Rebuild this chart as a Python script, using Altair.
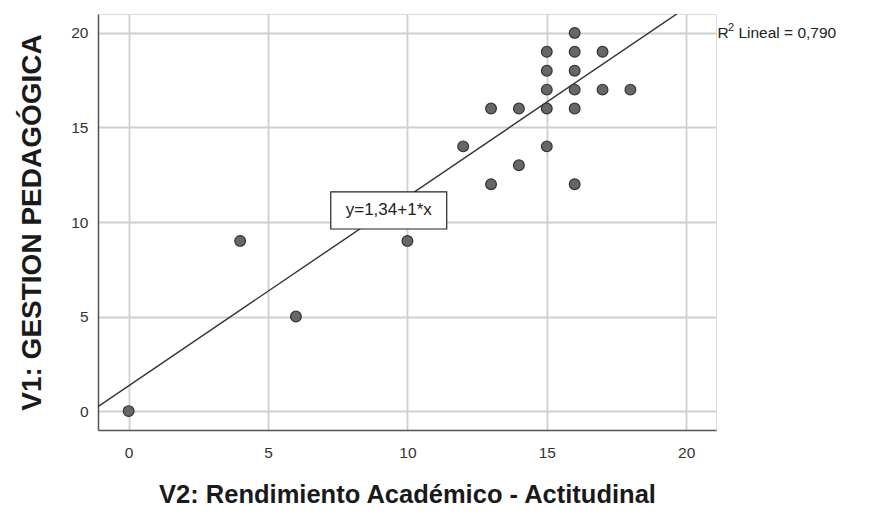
import altair as alt
import pandas as pd

# Data
v2_x = [0, 4, 6, 10, 12, 13, 13, 14, 14, 15, 15, 15, 15, 15, 16, 16, 16, 16, 16, 16, 17, 17, 18]
v1_y = [0, 9, 5, 9, 14, 16, 12, 16, 13, 19, 18, 17, 16, 14, 20, 19, 18, 17, 16, 12, 19, 17, 17]

intercept = 1.34
slope = 1.0
fit_x = [-1.1, 21.07]
fit_y = [intercept + slope * v for v in fit_x]

eq_label = ["y=1,34+1*x"]
eq_box_x = [7.25, 11.41]
eq_box_y = [9.63, 11.59]
r2_parts = ["R", "2", "Lineal = 0,790"]

pts = pd.DataFrame({"x": v2_x, "y": v1_y})
fit = pd.DataFrame({"x": fit_x, "y": fit_y})
box = pd.DataFrame({"x": [eq_box_x[0]], "x2": [eq_box_x[1]], "y": [eq_box_y[0]], "y2": [eq_box_y[1]]})
eqt = pd.DataFrame({"x": [sum(eq_box_x) / 2], "y": [sum(eq_box_y) / 2], "t": eq_label})
r2 = pd.DataFrame({"x": [21.12], "y": [20.0]})

FONT = "Liberation Sans"
xscale = alt.Scale(domain=[-1.1, 21.07], nice=False, zero=False)
yscale = alt.Scale(domain=[-1, 21], nice=False, zero=False)

xaxis = alt.Axis(values=[0, 5, 10, 15, 20], title="V2: Rendimiento Académico - Actitudinal",
                 titleFontSize=25.5, titleFont=FONT, titleFontWeight="bold", titleColor="#1a1a1a",
                 titlePadding=22, labelFont=FONT, labelFontSize=15.5, labelColor="#333",
                 labelPadding=15, ticks=False, domainColor="#555", domainWidth=1.5,
                 gridColor="#cfcfcf", gridWidth=1.8)
yaxis = alt.Axis(values=[0, 5, 10, 15, 20], title="V1: GESTION PEDAGÓGICA",
                 titleFontSize=28, titleFont=FONT, titleFontWeight="bold", titleColor="#1a1a1a",
                 titlePadding=24, labelFont=FONT, labelFontSize=15.5, labelColor="#333",
                 labelPadding=10, ticks=False, domainColor="#555", domainWidth=1.5,
                 gridColor="#cfcfcf", gridWidth=1.8)

points = alt.Chart(pts).mark_circle(size=115, color="#676767", stroke="#333333",
                                    strokeWidth=1.2, opacity=1).encode(
    x=alt.X("x:Q", scale=xscale, axis=xaxis),
    y=alt.Y("y:Q", scale=yscale, axis=yaxis),
)

line = alt.Chart(fit).mark_line(color="#333333", strokeWidth=1.4, clip=True).encode(
    x=alt.X("x:Q", scale=xscale), y=alt.Y("y:Q", scale=yscale))

rect = alt.Chart(box).mark_rect(fill="white", stroke="#222222", strokeWidth=1.2).encode(
    x=alt.X("x:Q", scale=xscale), x2="x2:Q", y=alt.Y("y:Q", scale=yscale), y2="y2:Q")

eqtext = alt.Chart(eqt).mark_text(font=FONT, fontSize=17, color="#222", align="center",
                                  baseline="middle").encode(
    x=alt.X("x:Q", scale=xscale), y=alt.Y("y:Q", scale=yscale), text="t:N")

def r2_piece(txt, dx, dy, size):
    return alt.Chart(r2).mark_text(font=FONT, fontSize=size, color="#222", align="left",
                                   baseline="middle", dx=dx, dy=dy, clip=False).encode(
        x=alt.X("x:Q", scale=xscale), y=alt.Y("y:Q", scale=yscale), text=alt.value(txt))

r2a = r2_piece(r2_parts[0], 0, 0, 15.5)
r2b = r2_piece(r2_parts[1], 10.5, -5, 11)
r2c = r2_piece(r2_parts[2], 21, 0, 15.5)

chart = alt.layer(line, points, rect, eqtext, r2a, r2b, r2c).properties(
    width=618, height=416,
    autosize=alt.AutoSizeParams(type="none"),
    padding={"left": 90, "top": 6, "right": 145, "bottom": 80},
).configure_view(stroke=None).configure(background="white")

chart.save("out.html", embed_options={"renderer": "svg", "actions": False})
